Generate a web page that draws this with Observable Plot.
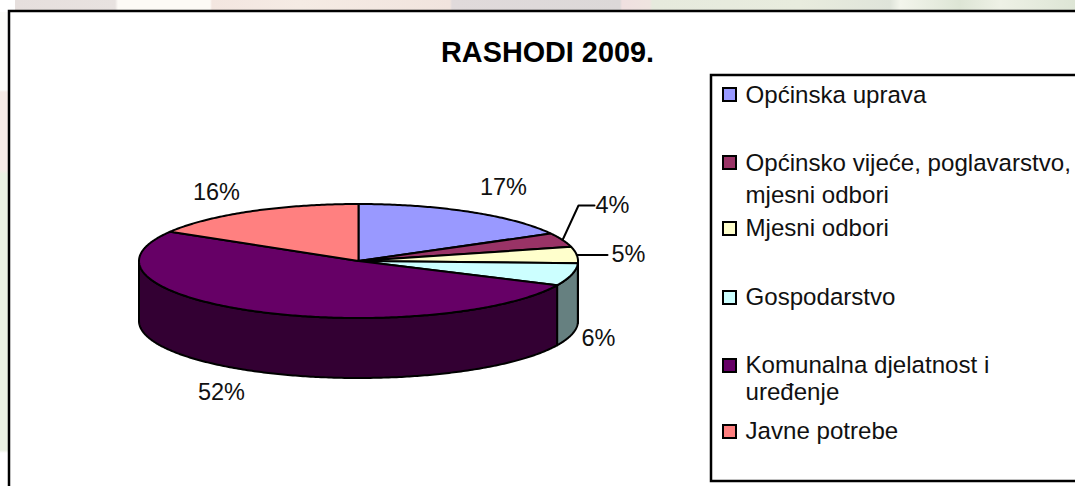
<!DOCTYPE html>
<html>
<head>
<meta charset="utf-8">
<script src="https://cdn.jsdelivr.net/npm/d3@7"></script>
<script src="https://cdn.jsdelivr.net/npm/@observablehq/plot@0.6"></script>
<style>
html,body{margin:0;padding:0;width:1075px;height:486px;overflow:hidden;background:#fff}
body{position:relative;
background-image:
 linear-gradient(90deg,#fff 0,#fff 15px,#e6dfdd 15px,#e8e2e0 115px,#fdfaf6 118px,#fdfaf6 210px,#f3e6e0 212px,#f5ebe4 300px,#f1e4de 450px,#e0dadb 452px,#dcd8d8 620px,#f0e0e0 622px,#efe4e0 650px,#e6eadd 652px,#e8ecde 800px,#dfe4da 890px,#f3f5ec 900px,#dde5d5 960px,#eef1e6 1000px,#dde5d5 1075px);
background-size:100% 12px;background-repeat:no-repeat}
#strip{position:absolute;left:0;top:12px;width:9px;height:474px;
background:linear-gradient(180deg,#fbfbf8 0,#fbfbf8 78px,#f6ebe6 80px,#f6ebe6 158px,#eaf1e2 162px,#eaf1e2 438px,#fff 441px)}
svg{position:absolute;left:0;top:0;display:block;background:transparent}
</style>
</head>
<body>
<div id="strip"></div>
<script>
// ---- data ----
const categories = ["Općinska uprava","Općinsko vijeće, poglavarstvo, mjesni odbori","Mjesni odbori","Gospodarstvo","Komunalna djelatnost i uređenje","Javne potrebe"];
const values = [17, 4, 4.6, 6.4, 51.6, 16.4];
const valueLabels = ["17%","4%","5%","6%","52%","16%"];
const titleText = "RASHODI 2009.";
const legendLines = ["Općinska uprava","Općinsko vijeće, poglavarstvo,","mjesni odbori","Mjesni odbori","Gospodarstvo","Komunalna djelatnost i","uređenje","Javne potrebe"];

// ---- styles and layout ----
const sliceColors = ["#9999FF","#993366","#FFFFCC","#CCFFFF","#660066","#FF8080"];
const wallColors  = ["#4d4d80","#4d1a33","#808066","#668080","#330033","#804040"];
const pie = {cx:358, cy:260.5, rx:219.5, ry:57, depth:60};
const labelX = [503,612,628,598,221,216];
const labelY = [187,205,254,338,392,192];
const legendLineY = [95,163,195,228,297,365,392,431];
const swatchY = [94.5,162.5,228.5,297.5,365.5,431.5];
const font = "'Liberation Sans', Arial, sans-serif";

// ---- geometry from the values ----
const total = d3.sum(values);
const cum = d3.cumsum(values);
const turn = i => (i < 0 ? 0 : cum[i] / total * 2 * Math.PI);
const px = t => pie.cx + pie.rx * Math.sin(t);
const py = t => pie.cy - pie.ry * Math.cos(t);
const arc = (a, b, n = Math.max(2, Math.ceil(Math.abs(b - a) / 0.012))) =>
  d3.range(n + 1).map(k => a + (b - a) * k / n);

const topPoints = [], wallPoints = [];
values.forEach((v, i) => {
  const a = turn(i - 1), b = turn(i);
  const rim = arc(a, b);
  [[pie.cx, pie.cy], ...rim.map(t => [px(t), py(t)]), [pie.cx, pie.cy]]
    .forEach(([x, y]) => topPoints.push({x, y, i}));
  const lo = Math.max(a, Math.PI / 2), hi = Math.min(b, 3 * Math.PI / 2);
  if (hi > lo) {
    const w = arc(lo, hi);
    const ring = [...w.map(t => [px(t), py(t)]), ...w.slice().reverse().map(t => [px(t), py(t) + pie.depth])];
    ring.push(ring[0]);
    ring.forEach(([x, y]) => wallPoints.push({x, y, i}));
  }
});

const mid = i => (turn(i - 1) + turn(i)) / 2;
const leaderRows = [
  {i:1, x:px(mid(1)), y:py(mid(1))}, {i:1, x:578, y:205}, {i:1, x:594, y:205},
  {i:2, x:px(mid(2)), y:py(mid(2))}, {i:2, x:607, y:py(mid(2))}
];
const idx = d3.range(values.length);
const frames = [
  {x1:9, y1:11, x2:1090, y2:500},
  {x1:711, y1:75, x2:1090, y2:481}
];

const chart = Plot.plot({
  width:1075, height:486,
  marginTop:0, marginRight:0, marginBottom:0, marginLeft:0,
  x:{domain:[0,1075], range:[0,1075], axis:null},
  y:{domain:[0,486], range:[0,486], axis:null},
  color:{type:"identity"},
  style:{background:"transparent", overflow:"visible"},
  marks:[
    Plot.rect(frames,{x1:"x1",y1:"y1",x2:"x2",y2:"y2",fill:"white",stroke:"black",strokeWidth:2.5}),
    Plot.line(wallPoints,{x:"x",y:"y",z:"i",fill:d=>wallColors[d.i],stroke:"black",strokeWidth:2,strokeLinejoin:"round"}),
    Plot.line(topPoints,{x:"x",y:"y",z:"i",fill:d=>sliceColors[d.i],stroke:"black",strokeWidth:2,strokeLinejoin:"round"}),
    Plot.line(leaderRows,{x:"x",y:"y",z:"i",stroke:"black",strokeWidth:2}),
    Plot.text([titleText],{x:[547],y:[52],text:d=>d,fontSize:28.8,fontWeight:"bold",fontFamily:font,fill:"black"}),
    Plot.text(idx,{x:i=>labelX[i],y:i=>labelY[i],text:i=>valueLabels[i],fontSize:23.5,fontFamily:font,fill:"#111"}),
    Plot.rect(idx,{x1:()=>723,x2:()=>736,y1:i=>swatchY[i]-6.5,y2:i=>swatchY[i]+6.5,fill:i=>sliceColors[i],stroke:"black",strokeWidth:2}),
    Plot.text(legendLines,{x:()=>745,y:(d,i)=>legendLineY[i],text:d=>d,textAnchor:"start",fontSize:24.1,fontFamily:font,fill:"#111"})
  ]
});
document.body.appendChild(chart);
</script>
</body>
</html>
